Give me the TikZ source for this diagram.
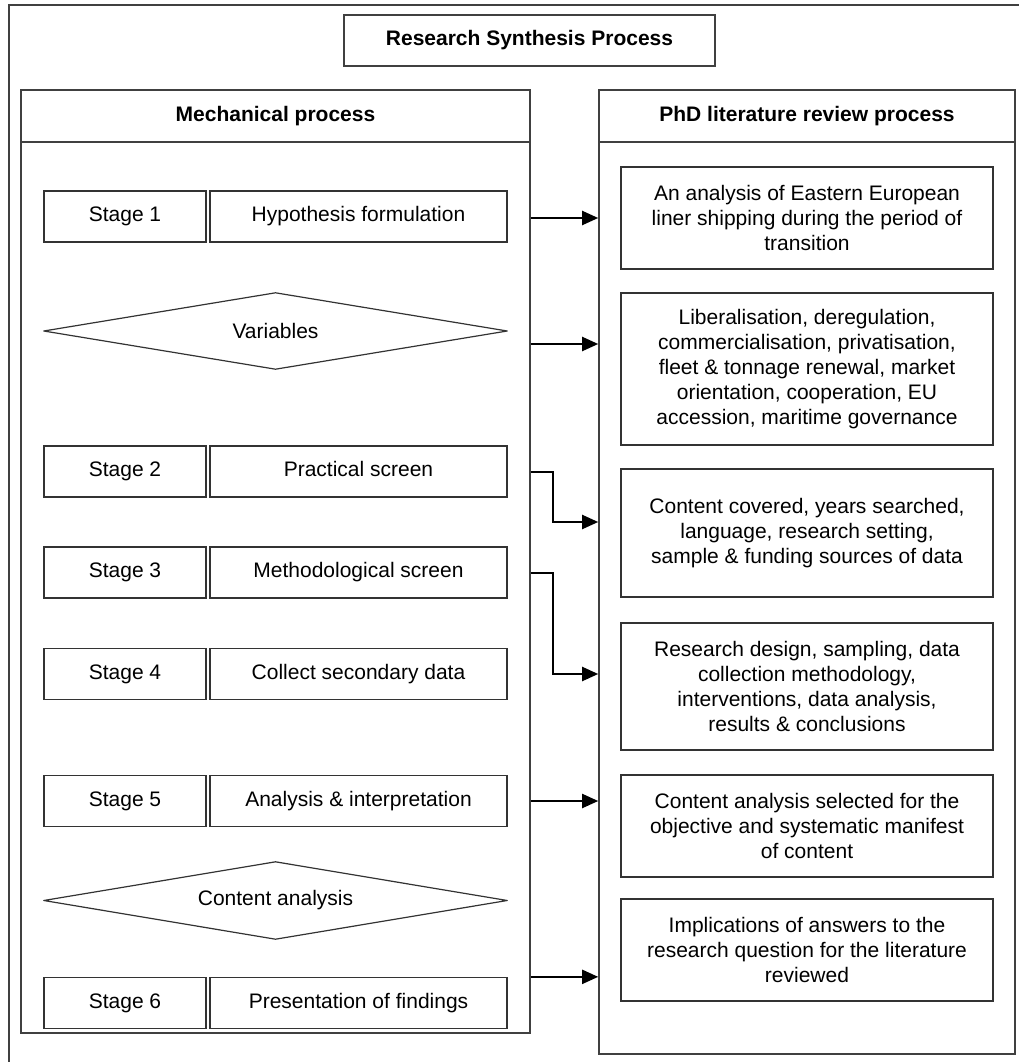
\documentclass[tikz,border=0pt]{standalone}
\usepackage{fontspec}
\setmainfont{Liberation Sans}
\usetikzlibrary{arrows.meta,calc}

\begin{document}
\begin{tikzpicture}[x=1pt,y=-1pt,
  every node/.style={font=\fontsize{21}{25}\selectfont},
  frame/.style={draw=black!75, line width=1.6pt},
  box/.style={draw=black!80, line width=1.3pt, rectangle, inner sep=0pt, align=center},
  panel/.style={box, line width=1.6pt, draw=black!75},
  head/.style={panel, font=\fontsize{21}{25}\selectfont\bfseries},
  choice/.style={rectangle, inner sep=0pt, minimum width=463pt},
  choiceline/.style={draw=black!80, line width=1.2pt, line join=round},
  conn/.style={line width=2pt, -{Triangle[length=16pt,width=14pt]}},
]
\useasboundingbox (0,0) rectangle (1019,1062);

% outer frame, running off the page on the right and bottom
\draw[frame] (9,1062) -- (9,5) -- (1019,5);

% title
\node[head, minimum width=371pt, minimum height=51pt] (title) at (529.5,40.5) {Research Synthesis Process};

% the two columns
\node[panel, minimum width=509pt, minimum height=943pt] (lp) at (275.5,561.5) {};
\node[head, minimum width=509pt, minimum height=52pt] (lh) at (275.5,116) {Mechanical process};
\node[panel, minimum width=416pt, minimum height=964pt] (rp) at (807,572) {};
\node[head, minimum width=416pt, minimum height=52pt] (rh) at (807,116) {PhD literature review process};

% stages of the mechanical process
\tikzset{stagebox/.style={box, minimum width=162pt, minimum height=51pt, text height=15pt, text depth=4.5pt},
         taskbox/.style={box, minimum width=297pt, minimum height=51pt, text height=15pt, text depth=4.5pt}}
\node[stagebox] (s1) at (125,216.5) {Stage 1};
\node[taskbox] (s1d) at (358.5,216.5) {Hypothesis formulation};
\node[choice, minimum height=76pt] (var) at (275.5,331) {Variables};
\draw[choiceline] (var.west) -- (var.north) -- (var.east) -- (var.south) -- cycle;
\node[stagebox] (s2) at (125,471.5) {Stage 2};
\node[taskbox] (s2d) at (358.5,471.5) {Practical screen};
\node[stagebox] (s3) at (125,572.5) {Stage 3};
\node[taskbox] (s3d) at (358.5,572.5) {Methodological screen};
\node[stagebox] (s4) at (125,674) {Stage 4};
\node[taskbox] (s4d) at (358.5,674) {Collect secondary data};
\node[stagebox] (s5) at (125,801) {Stage 5};
\node[taskbox] (s5d) at (358.5,801) {Analysis \& interpretation};
\node[choice, minimum height=77pt] (ca) at (275.5,900.5) {Content analysis};
\draw[choiceline] (ca.west) -- (ca.north) -- (ca.east) -- (ca.south) -- cycle;
\node[stagebox] (s6) at (125,1003) {Stage 6};
\node[taskbox] (s6d) at (358.5,1003) {Presentation of findings};

% literature review boxes
\tikzset{litbox/.style={box, minimum width=372pt}}
\node[litbox, minimum height=102pt] (b1) at (807,218) {An analysis of Eastern European\\liner shipping during the period of\\transition};
\node[litbox, minimum height=152pt] (b2) at (807,369) {Liberalisation, deregulation,\\commercialisation, privatisation,\\fleet \& tonnage renewal, market\\orientation, cooperation, EU\\accession, maritime governance};
\node[litbox, minimum height=128pt] (b3) at (807,533) {Content covered, years searched,\\language, research setting,\\sample \& funding sources of data};
\node[litbox, minimum height=127pt] (b4) at (807,686.5) {Research design, sampling, data\\collection methodology,\\interventions, data analysis,\\results \& conclusions};
\node[litbox, minimum height=102pt] (b5) at (807,826) {Content analysis selected for the\\objective and systematic manifest\\of content};
\node[litbox, minimum height=102pt] (b6) at (807,950) {Implications of answers to the\\research question for the literature\\reviewed};

% connectors between the columns
\draw[conn] (lp.east |- b1) -- (rp.west |- b1);
\draw[conn] ($(lp.east |- var)+(0,13)$) -- ($(rp.west |- var)+(0,13)$);
\draw[conn] (lp.east |- s2d) -- ++(22,0) |- ($(rp.west |- b3)+(0,-11)$);
\draw[conn] (lp.east |- s3d) -- ++(22,0) |- ($(rp.west |- b4)+(0,-12.5)$);
\draw[conn] (lp.east |- s5d) -- (rp.west |- s5d);
\draw[conn] (lp.east |- s6d.north) -- (rp.west |- s6d.north);
\end{tikzpicture}
\end{document}
